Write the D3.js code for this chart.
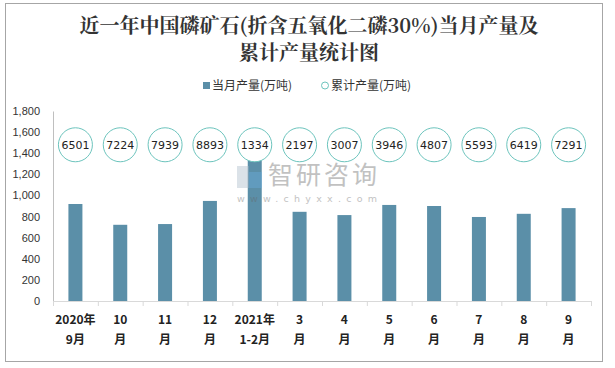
<!DOCTYPE html>
<html><head><meta charset="utf-8">
<script src="https://cdn.jsdelivr.net/npm/d3@7/dist/d3.min.js"></script>
<style>body{margin:0;background:#fff}svg{display:block}</style>
</head><body>
<svg id="c" width="615" height="368"></svg>
<script>
const categories = ["2020年|9月","10|月","11|月","12|月","2021年|1-2月","3|月","4|月","5|月","6|月","7|月","8|月","9|月"];
const monthly = [919, 722, 729, 948, 1334, 845, 814, 910, 900, 796, 826, 880];
const cumulative = [6501, 7224, 7939, 8893, 1334, 2197, 3007, 3946, 4807, 5593, 6419, 7291];
const yTicks = [0,200,400,600,800,1000,1200,1400,1600,1800];
const circleLevel = 1480;

const svg = d3.select("#c");
svg.append("rect").attr("x",5.5).attr("y",3.5).attr("width",597).attr("height",358)
  .attr("fill","#fff").attr("stroke","#a6a6a6");

const L=53, R=591, T=111, B=301;
const x = d3.scaleBand().domain(categories).range([L,R]);
const y = d3.scaleLinear().domain([0,1800]).range([B,T]);

// title
const title = svg.append("text").attr("text-anchor","middle").attr("fill","#333")
  .style("font-family","'Noto Serif CJK SC','Noto Sans CJK SC',serif").style("font-weight","bold").style("font-size","20px");
title.append("tspan").attr("x",309).attr("y",33).text("近一年中国磷矿石(折含五氧化二磷30%)当月产量及");
title.append("tspan").attr("x",309).attr("y",60).text("累计产量统计图");

// legend
const lg = svg.append("g").style("font-family","'Noto Sans CJK SC',sans-serif").style("font-size","12px").attr("fill","#333");
lg.append("rect").attr("x",203).attr("y",82).attr("width",7).attr("height",7).attr("fill","#5b8fa8");
lg.append("text").attr("x",212).attr("y",90).text("当月产量(万吨)");
lg.append("circle").attr("cx",325).attr("cy",85.5).attr("r",3.5).attr("fill","none").attr("stroke","#6cc4bd");
lg.append("text").attr("x",331).attr("y",90).text("累计产量(万吨)");

// y axis
const ya = svg.append("g").attr("transform",`translate(${L},0)`)
  .call(d3.axisLeft(y).tickValues(yTicks).tickSize(0).tickPadding(13).tickFormat(d3.format(",")));
ya.select(".domain").attr("stroke","#bfbfbf");
ya.selectAll("text").attr("fill","#333").style("font-family","'Liberation Sans',Arial,sans-serif").style("font-size","11px");

// bars
svg.append("g").selectAll("rect").data(monthly).join("rect")
  .attr("x",(d,i)=>x(categories[i])+x.bandwidth()/2-7).attr("width",14)
  .attr("y",d=>y(d)).attr("height",d=>B-y(d)).attr("fill","#5b8fa8");

// watermark
const wm = svg.append("g").attr("opacity",0.4);
wm.append("rect").attr("x",237).attr("y",166).attr("width",12).attr("height",22).attr("fill","#a8b8c8");
wm.append("rect").attr("x",249).attr("y",172).attr("width",13).attr("height",16).attr("fill","#6aaee0");
wm.append("text").attr("x",268).attr("y",184).attr("fill","#666").style("font-family","'Noto Sans CJK SC',sans-serif").style("font-size","25px").attr("textLength",109).text("智研咨询");
wm.append("text").attr("x",237).attr("y",202).attr("fill","#666").style("font-family","Verdana,'DejaVu Sans',sans-serif").style("font-size","9.5px").attr("textLength",140).text("www.chyxx.com");

// x axis
const xa = svg.append("g").attr("transform",`translate(0,${B})`).call(d3.axisBottom(x).tickSize(0).tickFormat(""));
xa.select(".domain").attr("stroke","#d9d9d9");
const bounds = categories.map(c=>x(c)).concat([R]);
svg.append("g").selectAll("line").data(bounds).join("line")
  .attr("x1",d=>d+0.5).attr("x2",d=>d+0.5).attr("y1",B).attr("y2",B+5).attr("stroke","#d9d9d9");
const xl = svg.append("g").style("font-family","'Noto Sans CJK SC',sans-serif").style("font-weight","bold").style("font-size","12px").attr("fill","#222");
categories.forEach(c=>{
  const [a,b]=c.split("|");
  const cx = x(c)+x.bandwidth()/2;
  const t = xl.append("text").attr("text-anchor","middle");
  t.append("tspan").attr("x",cx).attr("y",324).text(a);
  t.append("tspan").attr("x",cx).attr("y",344).text(b);
});

// cumulative circles
const cg = svg.append("g").selectAll("g").data(cumulative).join("g")
  .attr("transform",(d,i)=>`translate(${x(categories[i])+x.bandwidth()/2},${y(circleLevel)})`);
cg.append("circle").attr("r",17).attr("fill","#fff").attr("stroke","#6cc4bd").attr("stroke-width",1);
cg.append("text").attr("text-anchor","middle").attr("dy","0.36em").attr("fill","#222")
  .style("font-family","'DejaVu Sans',Verdana,sans-serif").style("font-size","11px").text(d=>d);
</script>
</body></html>
